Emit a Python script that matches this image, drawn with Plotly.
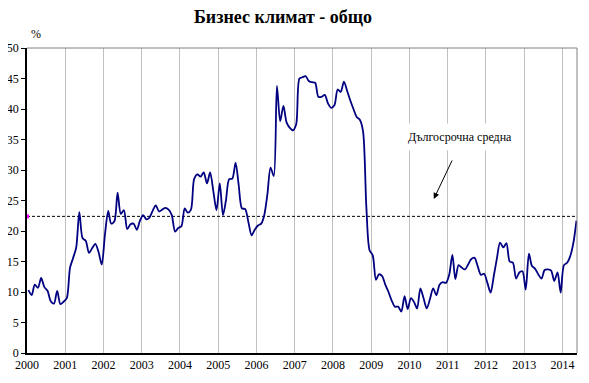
import pandas as pd
import plotly.graph_objects as go

# Monthly business climate indicator, Jan 2000 - May 2014 (%)
values = [
    # 2000
    10.3, 9.5, 11.2, 10.7, 12.3, 10.8, 10.2, 8.5, 8.1, 10.2, 8.0, 8.4,
    # 2001
    9.0, 14.0, 15.5, 17.3, 23.1, 18.8, 18.4, 16.4, 17.2, 17.9, 16.5, 14.5,
    # 2002
    19.5, 23.3, 21.2, 21.6, 26.3, 22.8, 23.4, 20.3, 21.1, 21.2, 20.2, 21.7,
    # 2003
    22.6, 21.9, 22.2, 23.3, 24.2, 23.2, 23.5, 23.8, 23.5, 22.6, 19.9, 20.5,
    # 2004
    20.8, 23.7, 23.0, 23.5, 28.5, 29.3, 28.9, 29.6, 27.8, 29.6, 26.5, 23.4,
    # 2005
    27.8, 22.6, 25.0, 28.5, 28.6, 31.2, 27.5, 23.7, 23.6, 21.5, 19.3, 20.2,
    # 2006
    20.9, 21.2, 22.5, 26.0, 30.4, 29.0, 43.8, 38.0, 40.5, 37.8, 36.9, 36.5,
    # 2007
    37.5, 45.0, 45.2, 45.4, 44.6, 44.4, 44.3, 42.0, 42.0, 42.3, 40.9, 40.2,
    # 2008
    40.6, 43.2, 42.8, 44.5, 43.0, 41.4, 40.0, 38.7, 38.2, 36.3, 24.0, 16.9,
    # 2009
    16.0, 12.0, 12.9, 12.6, 11.2, 10.0, 8.6, 7.6, 7.6, 6.8, 9.3, 7.2,
    # 2010
    9.0, 8.3, 7.3, 10.6, 9.0, 7.3, 8.8, 10.6, 9.5, 11.2, 11.6, 11.5,
    # 2011
    12.8, 16.1, 12.1, 14.4, 14.0, 13.7, 14.5, 15.4, 15.6, 14.2, 12.8, 13.0,
    # 2012
    11.5, 9.9, 12.5, 15.5, 18.1, 17.3, 18.0, 15.0, 14.8, 12.2, 13.2, 13.4,
    # 2013
    10.4, 16.3, 14.3, 13.8, 12.9, 12.2, 13.6, 13.7, 13.5, 11.8, 13.2, 9.9,
    # 2014
    14.4, 14.8, 15.8, 18.0, 21.7,
]
dates = pd.date_range("2000-01-01", periods=len(values), freq="MS") + pd.Timedelta(days=14)
long_term_avg = 22.4
x_range = ["2000-01-01", "2014-05-20"]
year_ticks = [f"{y}-01-01" for y in range(2000, 2015)]
year_labels = [str(y) for y in range(2000, 2015)]

title_text = "Бизнес климат - общо"
avg_label = "Дългосрочна средна"
serif = "Liberation Serif"

# page body has an 8px default margin; figure is sized to compensate
W, H = 581, 375

fig = go.Figure()
fig.add_trace(go.Scatter(
    x=[x_range[0], x_range[1]], y=[long_term_avg, long_term_avg],
    mode="lines", line=dict(color="black", width=1, dash="3px,2px"),
    hoverinfo="skip", showlegend=False,
))
fig.add_trace(go.Scatter(
    x=[x_range[0]], y=[long_term_avg], mode="markers",
    marker=dict(color="#ff00ff", size=4, symbol="square"),
    showlegend=False, cliponaxis=False,
))
fig.add_trace(go.Scatter(
    x=dates, y=values, mode="lines",
    line=dict(color="#000080", width=1.8, shape="spline", smoothing=0.8),
    showlegend=False,
))

fig.update_layout(
    width=W, height=H,
    margin=dict(l=19, r=12, t=40, b=30),
    paper_bgcolor="white", plot_bgcolor="white",
    font=dict(family=serif, size=12, color="black"),
    title=dict(text=f"<b>{title_text}</b>", font=dict(family=serif, size=18, color="black"),
               x=275/W, xanchor="center", y=1-9/H, yanchor="middle"),
    xaxis=dict(
        type="date", range=x_range, automargin=False,
        tickmode="array", tickvals=year_ticks, ticktext=year_labels,
        showgrid=True, gridcolor="#c0c0c0", gridwidth=1,
        showline=True, linecolor="black", linewidth=1.5,
        ticks="", ticklen=0, tickfont=dict(family=serif, size=12, color="black"),
        zeroline=False,
    ),
    yaxis=dict(
        range=[0, 50], dtick=5, tick0=0, automargin=False,
        showgrid=False, showline=True, linecolor="black", linewidth=1.5,
        ticks="outside", ticklen=4, tickcolor="black",
        tickfont=dict(family=serif, size=12, color="black"),
        zeroline=False,
    ),
    shapes=[
        dict(type="line", xref="paper", yref="paper", x0=0, x1=1, y0=1, y1=1,
             line=dict(color="#808080", width=1)),
        dict(type="line", xref="paper", yref="paper", x0=1, x1=1, y0=0, y1=1,
             line=dict(color="#808080", width=1)),
    ],
    annotations=[
        dict(text="%", xref="paper", yref="paper", x=(36-27)/550.3, y=(353-34)/305,
             showarrow=False, font=dict(family=serif, size=12, color="black"),
             xanchor="center", yanchor="middle"),
        dict(text=avg_label, xref="paper", yref="paper", x=(460-27)/550.3, y=(353-137)/305,
             showarrow=False, bgcolor="white", borderpad=6,
             font=dict(family=serif, size=12, color="black"),
             xanchor="center", yanchor="middle"),
        dict(text="", xref="paper", yref="paper", x=(434-27)/550.3, y=(353-199)/305,
             showarrow=True, ax=19, ay=-40, arrowhead=2, arrowsize=1.2,
             arrowwidth=1, arrowcolor="black"),
    ],
)

fig.write_html("out.html")
